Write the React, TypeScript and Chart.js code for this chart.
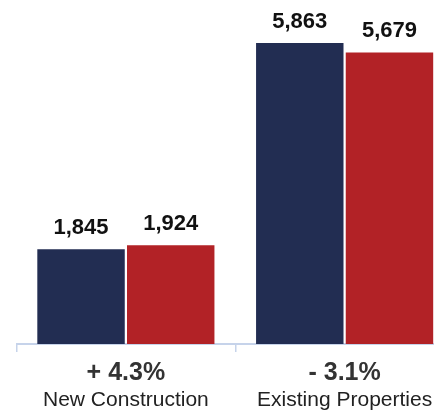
import React, { useEffect, useRef } from "react";
import { Chart, registerables } from "chart.js";

Chart.register(...registerables);

const categories = ["New Construction", "Existing Properties"];
const changeLabels = ["+ 4.3%", "- 3.1%"];
const seriesA = [1845, 5863];
const seriesB = [1924, 5679];
const seriesNames = ["Previous", "Current"];
const colors = ["#222d52", "#b22226"];

const FONT = '"Liberation Sans", Arial, Helvetica, sans-serif';

const labelPlugin = {
  id: "customLabels",
  afterDatasetsDraw(chart: any) {
    const ctx = chart.ctx;
    ctx.save();
    ctx.fillStyle = "#111";
    ctx.font = `bold 22px ${FONT}`;
    ctx.textAlign = "center";
    ctx.textBaseline = "alphabetic";
    chart.data.datasets.forEach((ds: any, di: number) => {
      const meta = chart.getDatasetMeta(di);
      meta.data.forEach((bar: any, i: number) => {
        const v = ds.data[i] as number;
        ctx.fillText(v.toLocaleString("en-US"), bar.x, bar.y - 15);
      });
    });
    const xs = chart.scales.x;
    const bottom = chart.chartArea.bottom;
    categories.forEach((c, i) => {
      const x = xs.getPixelForValue(i);
      ctx.fillStyle = "#333";
      ctx.font = `bold 25px ${FONT}`;
      ctx.fillText(changeLabels[i], x, bottom + 36);
      ctx.fillStyle = "#222";
      ctx.font = `21px ${FONT}`;
      ctx.fillText(c, x, bottom + 62);
    });
    ctx.restore();
  },
};

export default function App() {
  const ref = useRef<HTMLCanvasElement>(null);
  useEffect(() => {
    if (!ref.current) return;
    const chart = new Chart(ref.current, {
      type: "bar",
      data: {
        labels: categories,
        datasets: [
          { label: seriesNames[0], data: seriesA, backgroundColor: colors[0] },
          { label: seriesNames[1], data: seriesB, backgroundColor: colors[1] },
        ],
      },
      options: {
        responsive: false,
        animation: false,
        devicePixelRatio: 1,
        layout: { padding: { left: 8.5, right: 0, top: 0, bottom: 0 } },
        plugins: { legend: { display: false }, tooltip: { enabled: false } },
        datasets: { bar: { categoryPercentage: 0.82, barPercentage: 0.975 } },
        scales: {
          x: {
            offset: true,
            grid: {
              offset: true,
              drawOnChartArea: false,
              drawTicks: true,
              tickLength: 8,
              color: "#c6d3ea",
              lineWidth: 1.5,
            },
            border: { display: true, color: "#c6d3ea", width: 2 },
            ticks: { display: false },
            afterFit: (s: any) => {
              s.height = 68;
            },
          },
          y: { display: false, min: 0, max: 6545 },
        },
      },
      plugins: [labelPlugin],
    });
    return () => chart.destroy();
  }, []);
  return (
    <div style={{ width: 434, height: 404, overflow: "hidden" }}>
      <canvas ref={ref} width={446} height={404} style={{ display: "block" }} />
    </div>
  );
}
